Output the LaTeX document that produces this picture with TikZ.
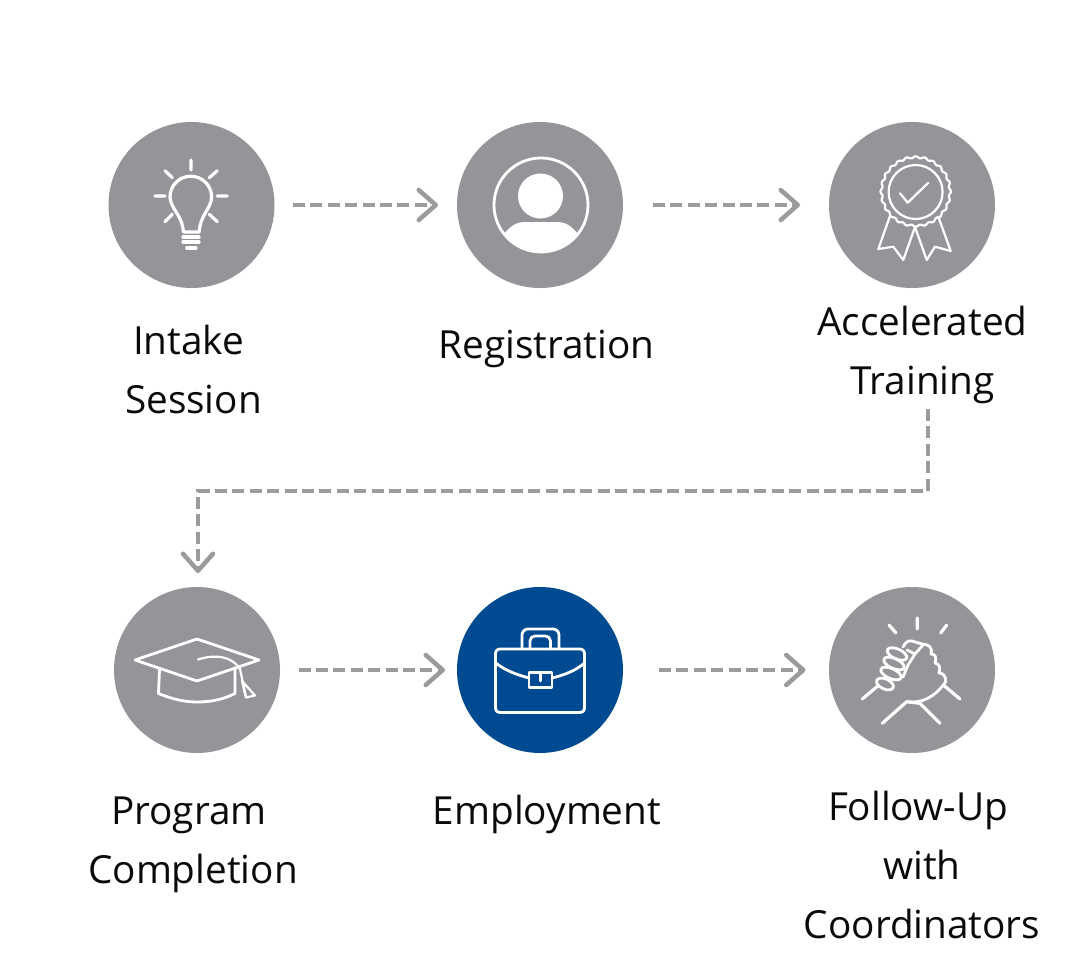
\documentclass[tikz,border=0pt]{standalone}
\usepackage{fontspec}
\setmainfont{Open Sans}
\usetikzlibrary{arrows.meta}
\definecolor{disc}{HTML}{939598}
\definecolor{dash}{HTML}{9B9B9B}
\definecolor{navy}{HTML}{004A91}
\definecolor{ink}{HTML}{0A0A0A}
\tikzset{
  x=1pt,y=-1pt,
  stage/.style={circle,fill=disc,minimum size=166pt,inner sep=0pt,outer sep=0pt},
  stagenow/.style={stage,fill=navy},
  caption/.style={font=\fontsize{38.7pt}{59pt}\selectfont,text=ink,align=center,inner sep=0pt},
  flow/.style={draw=dash,line width=4pt,dash pattern=on 12pt off 5.4pt,shorten <=18.5pt,shorten >=19pt,
    -{Straight Barb[length=17pt,width=30pt,line width=4.5pt,round]}},
  ico/.style={draw=white,line width=2.8pt,line cap=round,line join=round},
  icobold/.style={draw=white,line width=3.2pt,line cap=round,line join=round},
  icothin/.style={draw=white,line width=2.2pt,line cap=round,line join=round},
}
\begin{document}
\begin{tikzpicture}
\useasboundingbox (0,0) rectangle (1080,980);
\fill[white] (0,0) rectangle (1080,980);
\node[stage] (n1) at (191.5,205) {};
\node[stage] (n2) at (540,205) {};
\node[stage] (n3) at (912,205) {};
\node[stage] (n4) at (197,670) {};
\node[stagenow] (n5) at (540,670) {};
\node[stage] (n6) at (912,670) {};
\node[caption] (t1) at (193.5,369) {Intake\hspace*{10pt}\\Session};
\node[caption] (t2) at (546.5,349) {Registration};
\node[caption] (t3) at (922.5,355) {Accelerated\\Training};
\node[caption] (t4) at (193,845) {Program\hspace*{8pt}\\Completion};
\node[caption] (t5) at (547,814) {Employment};
\node[caption] (t6) at (922,865) {Follow-Up\hspace*{8pt}\\with\\Coordinators};
\coordinate (b0) at (928,409);
\coordinate (b1) at (928,491);
\coordinate (b2) at (198,491);
\draw[flow] (n1) -- (n2);
\draw[flow,shorten <=30pt,shorten >=29pt] (n2) -- (n3);
\draw[flow,shorten >=12pt] (n4) -- (n5);
\draw[flow,shorten <=36pt,shorten >=23.5pt] (n5) -- (n6);
\draw[flow,shorten <=0pt,shorten >=14pt] (b0) -- (b1) -- (b2) -- (b2 |- n4.north);
% bulb
\draw[icobold] (183.3,232) .. controls (183,216) and (170,208) .. (170,197) arc[start angle=180,end angle=360,radius=20.8] .. controls (211.6,208) and (199.5,216) .. (199.3,232) -- cycle;
\draw[icobold] (183,237) -- (199,237) (183,242) -- (199,242) (186.7,248) -- (196,248);
\draw[icobold] (191,160) -- (191,170) (155,196) -- (165,196) (217.3,196) -- (227.3,196) (165,170.7) -- (172.3,177.7) (217.3,170.7) -- (209.3,177.7) (165,221.7) -- (172.3,214.3) (217.3,221.7) -- (209.3,214.3);
% person
\draw[ico] (541,205) circle[radius=47];
\fill[white] (540.5,196) circle[radius=22.5];
\fill[white] (504,234) .. controls (512,224) and (518,222) .. (526,222) -- (556,222) .. controls (564,222) and (570,224) .. (578,234) arc[start angle=38,end angle=142,radius=47] -- cycle;
% badge
\draw[icothin,smooth,samples=241] plot[domain=0:360] ({915.7+(34.3+0.9*cos(24*\x))*cos(\x)},{191.5+(34.3+0.9*cos(24*\x))*sin(\x)});
\draw[icothin] (915.6,192) circle[radius=27];
\draw[icothin] (900,193.3) -- (907.7,202.7) -- (928.3,182.7);
\draw[icothin] (890,216) -- (878.3,249) -- (893.3,246.7) -- (903.3,260) -- (915,227) -- (926.7,260) -- (935,246.7) -- (950.7,251) -- (938.3,216.7);
% cap
\draw[ico] (197,639) -- (259,660) -- (197,681) -- (135,660) -- cycle;
\draw[ico] (159.5,669.5) -- (158.5,693.5) .. controls (172,699) and (184,702) .. (197,702) .. controls (212,702) and (224,699) .. (235,693.5) -- (235,668);
\draw[icothin] (198,659.5) .. controls (215,654) and (232,656) .. (240,669) -- (246,697);
\draw[icothin] (242,681) -- (246,697.5) -- (255,695.5) -- cycle;
% briefcase
\draw[ico,rounded corners=4pt] (495.5,649) rectangle (584.5,712.5);
\draw[ico] (496.5,663.5) .. controls (506,671) and (518,675) .. (529,678) (552,678) .. controls (564,675) and (575,671) .. (584,663.5);
\draw[ico] (529,672.5) rectangle (552,687.5);
\draw[ico] (540.5,673) -- (540.5,681);
\draw[ico,rounded corners=6pt] (522,649) -- (522,629) -- (559,629) -- (559,649);
\draw[ico,rounded corners=5pt] (530,649) -- (530,636) -- (550.5,636) -- (550.5,649);
% handshake
\draw[icobold] (889,625) -- (896,633) (917.3,618) -- (917.3,629) (946.7,625) -- (940.7,633);
\draw[icobold] (862.3,699) -- (877.7,686) (943.3,685) -- (960,699) (882.3,723.3) -- (906.7,701.7) -- (920,703.3) -- (940,723.3);
\draw[ico] (906.7,701.7) .. controls (922,704) and (935,696) .. (943.3,685) -- (945.7,681.7) .. controls (946,675) and (942,673) .. (939,673) .. controls (941,667) and (939,664) .. (935,663) .. controls (937,657) and (935,654) .. (931,654) .. controls (933,648) and (929,644) .. (922,644) -- (912,641) .. controls (908,640) and (905,643) .. (903,647);
\foreach \px/\py/\rx in {897/654/10.5,894/663.5/11,891/673.5/11,885/684/9}{
  \draw[ico,rotate around={-24:(\px,\py)}] (\px,\py) ellipse[x radius=\rx,y radius=5];
}
\draw[ico] (907,650) -- (915,654) -- (923,645);
\draw[ico] (915,654) -- (908,665) -- (903,677);
\end{tikzpicture}
\end{document}
